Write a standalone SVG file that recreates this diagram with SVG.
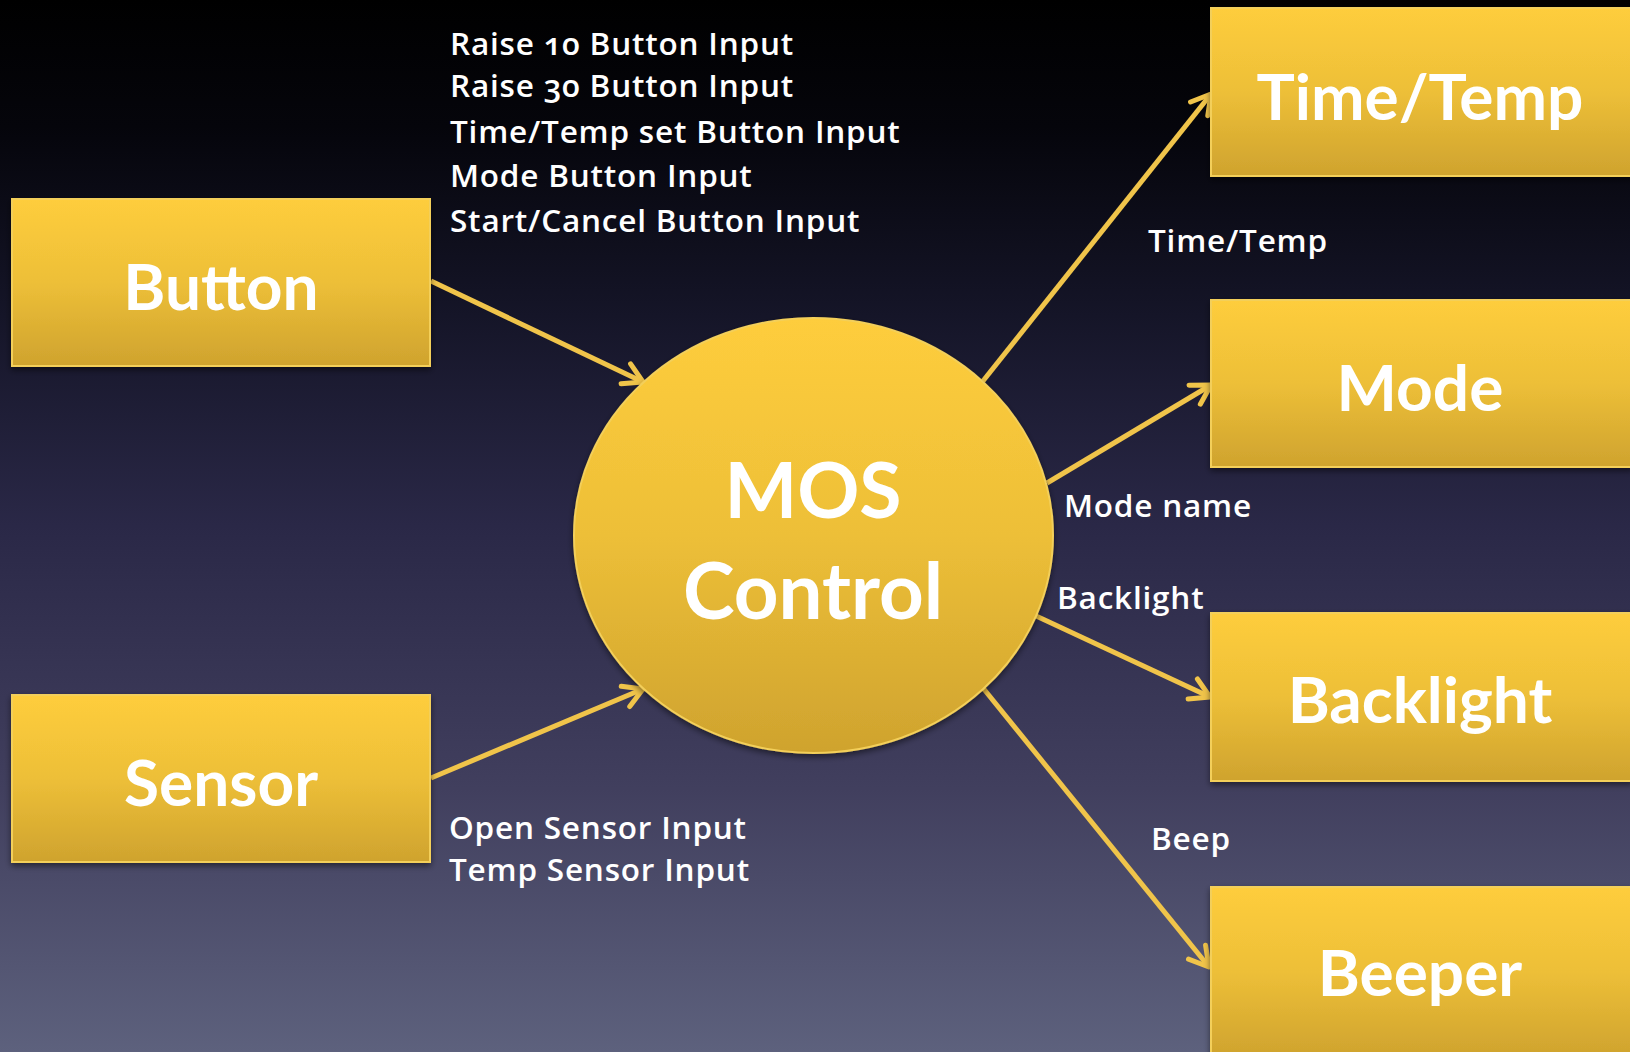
<svg xmlns="http://www.w3.org/2000/svg" width="1630" height="1052" viewBox="0 0 1630 1052">
<defs>
<linearGradient id="bg" x1="0" y1="0" x2="0" y2="1">
<stop offset="0" stop-color="#000000"/>
<stop offset="0.12" stop-color="#05050b"/>
<stop offset="0.3" stop-color="#151528"/>
<stop offset="0.5" stop-color="#2a2847"/>
<stop offset="0.75" stop-color="#413f5e"/>
<stop offset="1" stop-color="#5d617d"/>
</linearGradient>
<linearGradient id="gold" x1="0" y1="0" x2="0" y2="1">
<stop offset="0" stop-color="#fecd3c"/>
<stop offset="0.5" stop-color="#edbf38"/>
<stop offset="1" stop-color="#cfa32e"/>
</linearGradient>
<filter id="sh" x="-10%" y="-10%" width="120%" height="125%">
<feGaussianBlur in="SourceAlpha" stdDeviation="3"/>
<feOffset dx="0" dy="3" result="b"/>
<feComponentTransfer><feFuncA type="linear" slope="0.5"/></feComponentTransfer>
<feMerge><feMergeNode/><feMergeNode in="SourceGraphic"/></feMerge>
</filter>
<marker id="ah" markerUnits="userSpaceOnUse" viewBox="0 0 30 30" markerWidth="30" markerHeight="30" refX="26" refY="15" orient="auto">
<path d="M7,4 L26,15 L7,26" fill="none" stroke="#f0c44a" stroke-width="5" stroke-linecap="round" stroke-linejoin="round"/>
</marker>
</defs>
<style>
.box{fill:url(#gold);stroke:#f3cf5a;stroke-width:2;filter:url(#sh)}
.big{font-family:Lato,"Open Sans","Liberation Sans",sans-serif;font-weight:700;fill:#ffffff;text-anchor:middle;font-size:64px}
.lbl{font-family:"Open Sans",Lato,"Liberation Sans",sans-serif;font-weight:600;fill:#ffffff;font-size:31.5px;letter-spacing:0.8px;font-variant-numeric:oldstyle-nums}
.cn{fill:none;stroke:#f0c44a;stroke-width:5;marker-end:url(#ah)}
</style>
<rect x="0" y="0" width="1630" height="1052" fill="url(#bg)"/>

<g id="connectors">
<line class="cn" x1="431" y1="281" x2="643" y2="382"/>
<line class="cn" x1="431" y1="778" x2="643" y2="689"/>
<line class="cn" x1="983" y1="381" x2="1211" y2="94"/>
<line class="cn" x1="1047" y1="483" x2="1211" y2="385"/>
<line class="cn" x1="1034" y1="615" x2="1210" y2="697"/>
<line class="cn" x1="983" y1="688" x2="1209" y2="967"/>
</g>

<g id="node-button">
<rect class="box" x="12" y="199" width="418" height="167"/>
<text class="big" x="221" y="310">Button</text>
</g>
<g id="node-sensor">
<rect class="box" x="12" y="695" width="418" height="167"/>
<text class="big" x="221" y="806">Sensor</text>
</g>
<g id="node-mos">
<ellipse cx="813.5" cy="535.5" rx="239.5" ry="217.5" fill="url(#gold)" stroke="#f3cf5a" stroke-width="2" filter="url(#sh)"/>
<text class="big" x="813" y="518" style="font-size:77px">MOS</text>
<text class="big" x="813" y="619" style="font-size:78px">Control</text>
</g>
<g id="node-timetemp">
<rect class="box" x="1211" y="8" width="421" height="168"/>
<text class="big" x="1420" y="120">Time/Temp</text>
</g>
<g id="node-mode">
<rect class="box" x="1211" y="300" width="421" height="167"/>
<text class="big" x="1420" y="411">Mode</text>
</g>
<g id="node-backlight">
<rect class="box" x="1211" y="613" width="421" height="168"/>
<text class="big" x="1420" y="723">Backlight</text>
</g>
<g id="node-beeper">
<rect class="box" x="1211" y="887" width="421" height="170"/>
<text class="big" x="1420" y="996">Beeper</text>
</g>

<g id="labels">
<text class="lbl" x="450" y="55">Raise 10 Button Input</text>
<text class="lbl" x="450" y="97">Raise 30 Button Input</text>
<text class="lbl" x="450" y="143">Time/Temp set Button Input</text>
<text class="lbl" x="450" y="187">Mode Button Input</text>
<text class="lbl" x="450" y="232">Start/Cancel Button Input</text>
<text class="lbl" x="1148" y="252">Time/Temp</text>
<text class="lbl" x="1064" y="517">Mode name</text>
<text class="lbl" x="1057" y="609">Backlight</text>
<text class="lbl" x="1151" y="850">Beep</text>
<text class="lbl" x="449" y="839">Open Sensor Input</text>
<text class="lbl" x="449" y="881">Temp Sensor Input</text>
</g>
</svg>
